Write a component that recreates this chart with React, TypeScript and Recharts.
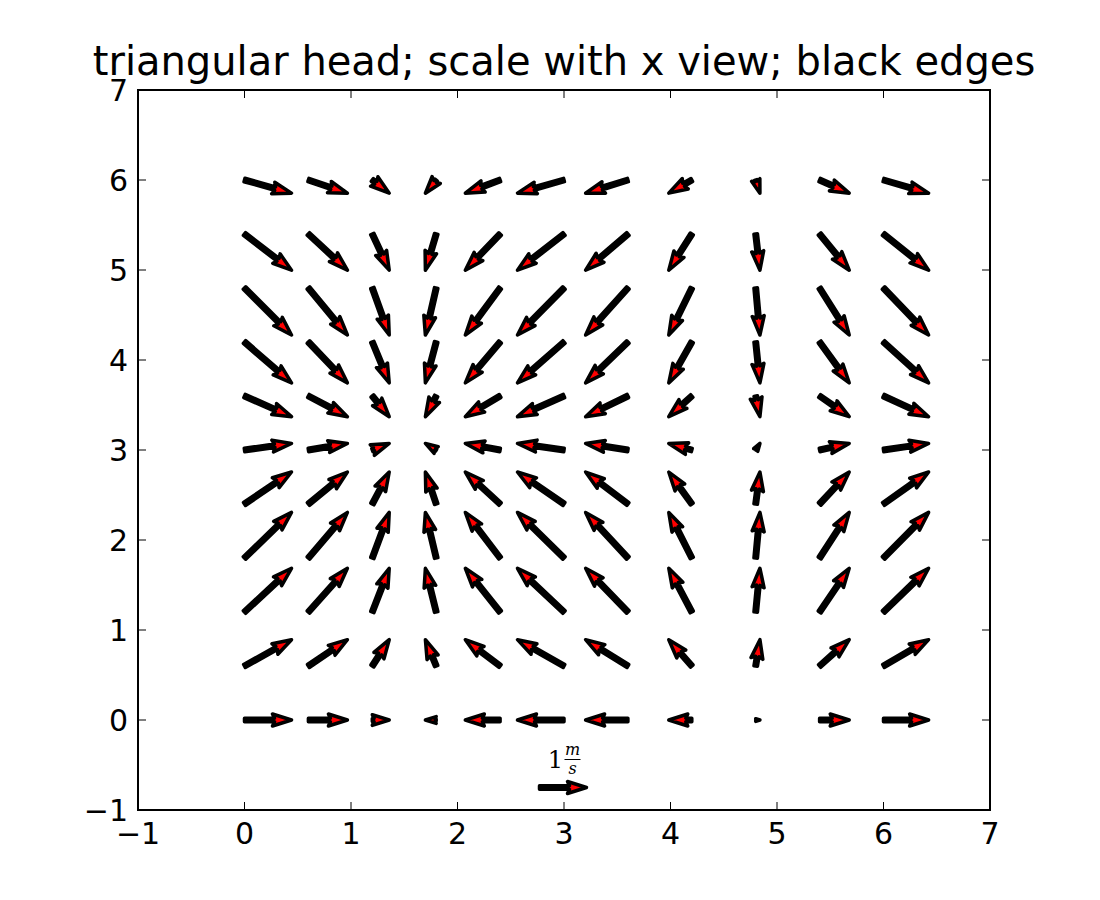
import { ScatterChart, Scatter, XAxis, YAxis, ReferenceArea } from 'recharts'

// grid positions (x view units)
const xs = [0, 0.6, 1.2, 1.8, 2.4, 3.0, 3.6, 4.2, 4.8, 5.4, 6.0]
const ys = [0, 0.6, 1.2, 1.8, 2.4, 3.0, 3.6, 4.2, 4.8, 5.4, 6.0]
// U per column, V per row (m/s), read from the arrows
const uCol = [1.0, 0.83, 0.36, -0.23, -0.74, -0.99, -0.9, -0.49, 0.09, 0.63, 0.96]
const vRow = [0.0, 0.56, 0.93, 0.97, 0.68, 0.14, -0.44, -0.87, -1.0, -0.77, -0.28]
const ticks = [-1, 0, 1, 2, 3, 4, 5, 6, 7]
const keyArrow = [{ x: 2.77, y: -0.75, u: 1, v: 0 }]

const points = ys.flatMap((y, j) => xs.map((x, i) => ({ x, y, u: uCol[i], v: vRow[j] })))

const TOP = 90
const BOTTOM = 810
const LEFT = 138
const RIGHT = 990
const PX_PER_MS = 47
const FONT = 'DejaVu Sans'

function arrowPath(cx: number, cy: number, u: number, v: number) {
  const dx = u * PX_PER_MS
  const dy = -v * PX_PER_MS
  const L = Math.hypot(dx, dy)
  if (L < 0.5) return null
  let w = 3.5
  let hl = 19
  let ha = 17
  let hw = 12
  if (L < hl) {
    const k = L / hl
    w *= k; hl *= k; ha *= k; hw *= k
  }
  const ca = dx / L
  const sa = dy / L
  const pts: [number, number][] = [
    [0, -w / 2], [L - ha, -w / 2], [L - hl, -hw / 2], [L, 0],
    [L - hl, hw / 2], [L - ha, w / 2], [0, w / 2],
  ]
  return pts
    .map(([a, b]) => `${(cx + a * ca - b * sa).toFixed(2)},${(cy + a * sa + b * ca).toFixed(2)}`)
    .join(' ')
}

const ArrowShape = (props: any) => {
  const { cx, cy, payload } = props
  if (cx == null || cy == null) return <g />
  const p = arrowPath(cx, cy, payload.u, payload.v)
  if (!p) return <circle cx={cx} cy={cy} r={3.5} fill="black" />
  return <polygon points={p} fill="red" stroke="black" strokeWidth={3.5} strokeLinejoin="round" />
}

const KeyShape = (props: any) => {
  const { cx, cy } = props
  if (cx == null || cy == null) return <g />
  const lx = cx + 24
  return (
    <g>
      <polygon points={arrowPath(cx, cy, 1, 0) || ''} fill="red" stroke="black" strokeWidth={3.5} strokeLinejoin="round" />
      <text x={lx - 8} y={cy - 20} fontFamily="DejaVu Serif" fontSize={24} textAnchor="middle">1</text>
      <text x={lx + 9} y={cy - 33} fontFamily="DejaVu Serif" fontStyle="italic" fontSize={16} textAnchor="middle">m</text>
      <line x1={lx + 1} x2={lx + 17} y1={cy - 28} y2={cy - 28} stroke="black" strokeWidth={1} />
      <text x={lx + 9} y={cy - 14} fontFamily="DejaVu Serif" fontStyle="italic" fontSize={16} textAnchor="middle">s</text>
    </g>
  )
}

const label = (v: number) => (v < 0 ? `\u2212${-v}` : `${v}`)

const XTick = (props: any) => {
  const { x, payload } = props
  return (
    <g>
      <line x1={x} x2={x} y1={BOTTOM} y2={BOTTOM - 8} stroke="black" strokeWidth={1} />
      <line x1={x} x2={x} y1={TOP} y2={TOP + 8} stroke="black" strokeWidth={1} />
      <text x={x} y={BOTTOM + 34} textAnchor="middle" fontFamily={FONT} fontSize={30}>{label(payload.value)}</text>
    </g>
  )
}

const YTick = (props: any) => {
  const { y, payload } = props
  return (
    <g>
      <line x1={LEFT} x2={LEFT + 8} y1={y} y2={y} stroke="black" strokeWidth={1} />
      <line x1={RIGHT} x2={RIGHT - 8} y1={y} y2={y} stroke="black" strokeWidth={1} />
      <text x={LEFT - 10} y={y + 11} textAnchor="end" fontFamily={FONT} fontSize={30}>{label(payload.value)}</text>
    </g>
  )
}

export default function App() {
  return (
    <div style={{ position: 'absolute', left: 0, top: 0, width: 1100, height: 900, background: 'white' }}>
      <div style={{ position: 'absolute', top: 38, width: 1128, textAlign: 'center', fontFamily: FONT, fontSize: 40 }}>
        triangular head; scale with x view; black edges
      </div>
      <ScatterChart width={1100} height={900} margin={{ top: TOP, right: 1100 - RIGHT, bottom: 0, left: LEFT - 60 }}>
        <XAxis type="number" dataKey="x" domain={[-1, 7]} ticks={ticks} height={90} tickLine={false} axisLine={false} tick={<XTick />} interval={0} />
        <YAxis type="number" dataKey="y" domain={[-1, 7]} ticks={ticks} width={60} tickLine={false} axisLine={false} tick={<YTick />} interval={0} />
        <ReferenceArea x1={-1} x2={7} y1={-1} y2={7} fill="none" stroke="black" strokeWidth={2} fillOpacity={0} ifOverflow="visible" />
        <Scatter data={points} shape={<ArrowShape />} isAnimationActive={false} />
        <Scatter data={keyArrow} shape={<KeyShape />} isAnimationActive={false} />
      </ScatterChart>
    </div>
  )
}
